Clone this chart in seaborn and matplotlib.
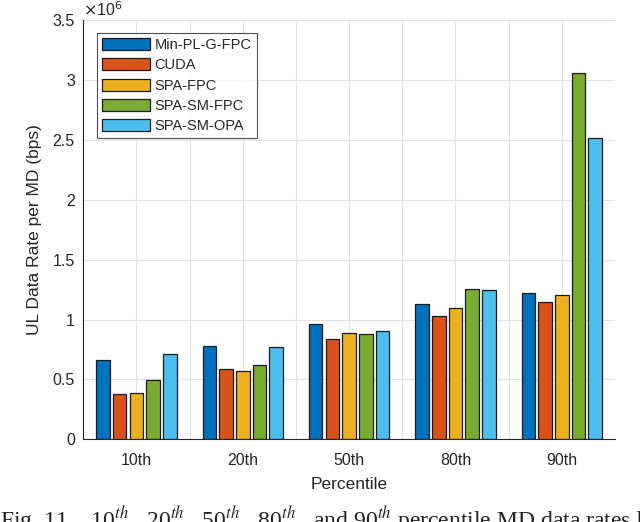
import numpy as np
import pandas as pd
import matplotlib.pyplot as plt
import seaborn as sns

# values in units of 1e6 bps
percentiles = ['10th', '20th', '50th', '80th', '90th']
methods = ['Min-PL-G-FPC', 'CUDA', 'SPA-FPC', 'SPA-SM-FPC', 'SPA-SM-OPA']
min_pl_g_fpc = [0.661, 0.775, 0.964, 1.133, 1.225]
cuda = [0.378, 0.586, 0.836, 1.033, 1.144]
spa_fpc = [0.383, 0.569, 0.888, 1.092, 1.203]
spa_sm_fpc = [0.497, 0.622, 0.878, 1.253, 3.055]
spa_sm_opa = [0.708, 0.767, 0.908, 1.244, 2.511]

colors = ['#0072BD', '#D95319', '#EDB120', '#77AC30', '#4DBEEE']

series = [min_pl_g_fpc, cuda, spa_fpc, spa_sm_fpc, spa_sm_opa]
df = pd.DataFrame({
    'Percentile': np.tile(percentiles, len(methods)),
    'rate': np.concatenate(series),
    'method': np.repeat(methods, len(percentiles)),
})

sns.set_style('white')
plt.rcParams['font.family'] = ['Liberation Sans', 'DejaVu Sans']
text_col = '#262626'

fig = plt.figure(figsize=(6.4, 5.22), dpi=100)
ax = fig.add_axes([0.130, 0.1584, 0.831, 0.8033])

sns.barplot(data=df, x='Percentile', y='rate', hue='method', palette=colors,
            hue_order=methods, order=percentiles, width=0.785, gap=0.19,
            saturation=1, edgecolor='#1a1a1a', linewidth=0.9, ax=ax)

ax.set_xlim(-0.5, 4.5)
ax.set_ylim(0, 3.5)
ax.set_yticks(np.arange(0, 3.51, 0.5))
ax.set_yticklabels(['0', '0.5', '1', '1.5', '2', '2.5', '3', '3.5'])
ax.set_xticks(np.arange(0.5, 4.0, 1.0), minor=True)

ax.set_axisbelow(True)
ax.grid(True, which='major', axis='both', color='#e2e2e2', linewidth=0.8)
ax.grid(True, which='minor', axis='x', color='#e2e2e2', linewidth=0.8)

for s in ['top', 'right']:
    ax.spines[s].set_visible(False)
for s in ['left', 'bottom']:
    ax.spines[s].set_color(text_col)
    ax.spines[s].set_linewidth(0.8)

ax.tick_params(axis='both', which='both', direction='in', colors=text_col,
               labelsize=11.5, length=4)
ax.tick_params(axis='x', which='major', length=0, pad=10)
ax.tick_params(axis='y', pad=6)

ax.set_xlabel('Percentile', fontsize=12.5, color=text_col, labelpad=6)
ax.set_ylabel('UL Data Rate per MD (bps)', fontsize=12.5, color=text_col, labelpad=8)
ax.text(0.0, 1.003, r'$\times$10$^{6}$', transform=ax.transAxes,
        fontsize=11.5, color=text_col, ha='left', va='bottom')

leg = ax.legend(loc='upper left', bbox_to_anchor=(0.026, 0.969), frameon=True,
                fancybox=False, edgecolor=text_col, fontsize=10.5,
                handlelength=3.3, handleheight=0.9, handletextpad=0.3,
                labelspacing=0.42, borderpad=0.35, borderaxespad=0)
leg.get_frame().set_linewidth(0.8)

fig.text(0.0, -0.012, r'Fig. 11.   10$^{th}$,  20$^{th}$,  50$^{th}$,  80$^{th}$,  and 90$^{th}$ percentile MD data rates by',
         fontsize=17, family='Liberation Serif', ha='left', va='baseline',
         color='#222222', math_fontfamily='stix')

fig.savefig('out.png', dpi=100)
